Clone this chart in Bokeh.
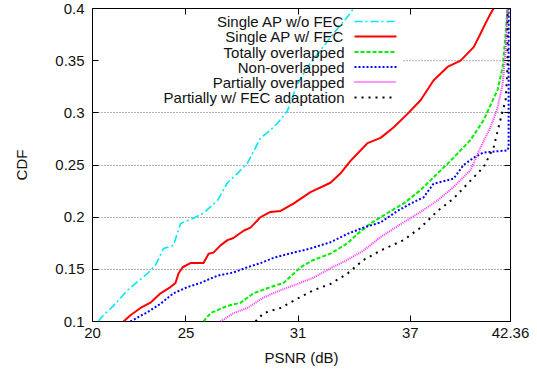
from bokeh.plotting import figure
from bokeh.models import FixedTicker, Range1d, LinearAxis, CustomJSTickFormatter
from bokeh.core.properties import value
from bokeh.embed import file_html
from bokeh.resources import INLINE

# ---------------- data ----------------
x_ticks = [20, 25, 31, 37, 42.36]
y_ticks = [0.1, 0.15, 0.2, 0.25, 0.3, 0.35, 0.4]

labels = ["Single AP w/o FEC", "Single AP w/ FEC", "Totally overlapped",
          "Non-overlapped", "Partially overlapped", "Partially w/ FEC adaptation"]

cyan_x = [20.32, 20.43, 20.70, 21.12, 21.87, 22.94, 23.37, 23.80, 24.33, 24.71, 25.40,
          25.94, 26.69, 27.22, 27.76, 28.30, 28.99, 29.36, 29.90, 30.43, 30.97, 31.50,
          32.20, 32.89, 33.64, 33.96]
cyan_y = [0.100, 0.103, 0.108, 0.115, 0.130, 0.146, 0.154, 0.170, 0.173, 0.194, 0.199,
          0.204, 0.216, 0.233, 0.242, 0.252, 0.276, 0.281, 0.290, 0.302, 0.328, 0.344,
          0.360, 0.376, 0.392, 0.400]

red_x = [21.66, 22.03, 22.57, 23.10, 23.64, 24.17, 24.44, 24.60, 24.82, 25.24, 25.94,
         26.21, 26.47, 26.85, 27.22, 27.54, 28.08, 28.45, 28.99, 29.52, 30.06, 30.75,
         31.66, 32.73, 33.27, 33.80, 34.18, 34.71, 35.41, 36.10, 36.85, 37.55, 38.24,
         38.99, 39.69, 40.39, 40.76, 41.03, 41.29, 41.46]
red_y = [0.100, 0.106, 0.113, 0.118, 0.127, 0.133, 0.137, 0.146, 0.152, 0.156, 0.156,
         0.165, 0.166, 0.173, 0.178, 0.180, 0.187, 0.190, 0.200, 0.205, 0.206, 0.213,
         0.224, 0.233, 0.242, 0.254, 0.261, 0.271, 0.276, 0.286, 0.299, 0.312, 0.331,
         0.344, 0.350, 0.363, 0.376, 0.386, 0.395, 0.400]

green_x = [25.94, 26.31, 27.22, 27.92, 28.61, 29.52, 30.22, 31.13, 31.82, 32.73, 33.64,
           34.18, 34.87, 35.78, 36.64, 37.55, 38.46, 39.15, 40.22, 40.92, 41.67, 41.94,
           42.10, 42.20]
green_y = [0.100, 0.108, 0.115, 0.118, 0.127, 0.133, 0.137, 0.152, 0.159, 0.165, 0.175,
           0.184, 0.194, 0.204, 0.213, 0.226, 0.242, 0.254, 0.274, 0.293, 0.322, 0.344,
           0.376, 0.400]

blue_x = [22.03, 22.94, 23.64, 24.33, 25.08, 25.78, 26.69, 27.54, 28.29, 28.99, 29.68,
          30.75, 31.66, 32.73, 33.64, 34.50, 35.41, 36.32, 37.01, 37.71, 38.24, 39.32,
          39.85, 40.39, 40.92, 42.20, 42.26, 42.26]
blue_y = [0.100, 0.109, 0.117, 0.127, 0.133, 0.137, 0.144, 0.147, 0.152, 0.156, 0.161,
          0.166, 0.170, 0.176, 0.184, 0.190, 0.195, 0.206, 0.213, 0.219, 0.232, 0.237,
          0.250, 0.257, 0.262, 0.264, 0.267, 0.400]

magenta_x = [26.85, 27.54, 28.29, 29.15, 30.06, 30.97, 31.82, 32.73, 33.64, 34.50, 35.41,
             36.64, 37.55, 38.46, 39.32, 40.22, 40.76, 41.29, 41.67, 41.94, 42.10, 42.20]
magenta_y = [0.100, 0.108, 0.113, 0.123, 0.130, 0.136, 0.142, 0.151, 0.159, 0.168, 0.181,
             0.195, 0.205, 0.216, 0.229, 0.245, 0.267, 0.286, 0.305, 0.328, 0.360, 0.400]

black_x = [28.72, 29.15, 30.06, 30.97, 31.82, 32.73, 33.64, 34.50, 35.41, 36.64, 37.55,
           38.46, 39.32, 40.22, 40.92, 41.46, 41.72, 41.94, 42.10, 42.20, 42.20]
black_y = [0.100, 0.108, 0.113, 0.122, 0.130, 0.136, 0.146, 0.159, 0.168, 0.178, 0.190,
           0.206, 0.218, 0.235, 0.248, 0.267, 0.286, 0.302, 0.312, 0.344, 0.400]

# ---------------- layout ----------------
W, H = 537, 370
FL, FR, FT, FB = 92, 510, 8, 321
X0, X1 = 20, 42.36
Y0, Y1 = 0.1, 0.4
FONT = "Liberation Sans"
TXT = "#111111"


def px_x(px):
    return X0 + (px - FL) * (X1 - X0) / (FR - FL)


def px_y(py):
    return Y0 + (FB - py) * (Y1 - Y0) / (FB - FT)


p = figure(width=W, height=H, output_backend="svg", toolbar_location=None,
           x_range=Range1d(X0, X1), y_range=Range1d(Y0, Y1),
           min_border_left=FL, min_border_right=W - FR,
           min_border_top=FT, min_border_bottom=H - FB)
p.outline_line_color = "black"
p.outline_line_width = 1
p.background_fill_color = "white"
p.border_fill_color = "white"

fmt = CustomJSTickFormatter(code="return String(tick);")

for ax, ticks in ((p.xaxis[0], x_ticks), (p.yaxis[0], y_ticks)):
    ax.ticker = FixedTicker(ticks=ticks)
    ax.formatter = fmt
    ax.axis_line_color = None
    ax.major_tick_in = 6
    ax.major_tick_out = 0
    ax.major_tick_line_color = "black"
    ax.minor_tick_line_color = None
    ax.major_label_text_font = FONT
    ax.major_label_text_font_size = "15px"
    ax.major_label_text_color = TXT
    ax.axis_label_text_font = FONT
    ax.axis_label_text_font_size = "15px"
    ax.axis_label_text_font_style = "normal"
    ax.axis_label_text_color = TXT

p.xaxis.axis_label = "PSNR (dB)"
p.yaxis.axis_label = "CDF"
p.xaxis.major_label_standoff = 6
p.xaxis.axis_label_standoff = 8
p.yaxis.major_label_standoff = 8
p.yaxis.axis_label_standoff = 22

# mirrored ticks (no labels)
blank = CustomJSTickFormatter(code="return '';")
for loc, ticks in (("right", y_ticks), ("above", x_ticks)):
    ax = LinearAxis(ticker=FixedTicker(ticks=ticks), formatter=blank,
                    axis_line_color=None,
                    major_tick_in=6, major_tick_out=0, minor_tick_line_color=None,
                    major_tick_line_color="black", major_label_standoff=0)
    p.add_layout(ax, loc)

p.xgrid.grid_line_color = None
p.ygrid.ticker = FixedTicker(ticks=y_ticks[1:-2])
p.ygrid.grid_line_color = "#666666"
p.ygrid.grid_line_dash = "1 2"
p.ygrid.grid_line_width = 1

# the 0.35 grid line is only drawn to the right of the key
p.segment(x0=[px_x(403)], y0=[y_ticks[-2]], x1=[X1], y1=[y_ticks[-2]],
          line_color="#666666", line_dash="1 2", line_width=1)

series = [
    (cyan_x, cyan_y, "#00e8f0", "8 3 2 3", 1.6),
    (red_x, red_y, "#ff0000", "solid", 2.0),
    (green_x, green_y, "#00ee00", "4 2", 2.0),
    (blue_x, blue_y, "#0000ff", "2 2", 2.0),
    (magenta_x, magenta_y, "#ff33ff", "1 1", 2.0),
    (black_x, black_y, "#000000", "2 5", 2.0),
]

for xs, ys, col, dash, lw in series:
    p.line(xs, ys, line_color=col, line_dash=dash, line_width=lw)

# key (text right-aligned, sample to its right, as in gnuplot)
row_py = [21, 36, 51.5, 66.5, 81.5, 97]
text_x = px_x(344)
s0, s1 = px_x(354), px_x(396)
p.text(x=[text_x] * len(labels), y=[px_y(r) for r in row_py], text=labels,
       text_font=value(FONT), text_font_size="15px", text_color=TXT,
       text_align="right", text_baseline="middle")
for (xs, ys, col, dash, lw), r in zip(series, row_py):
    p.line([s0, s1], [px_y(r), px_y(r)], line_color=col, line_dash=dash, line_width=lw)

open("out.html", "w").write(file_html(p, INLINE))
